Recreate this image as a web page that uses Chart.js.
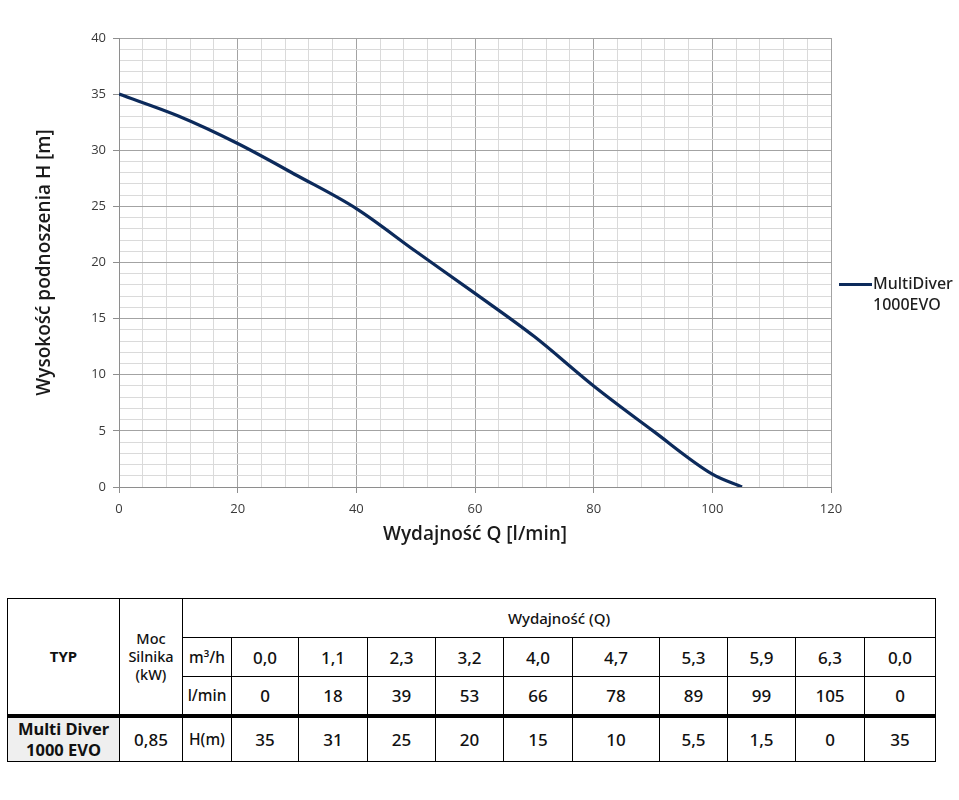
<!DOCTYPE html>
<html>
<head>
<meta charset="utf-8">
<script src="https://cdn.jsdelivr.net/npm/chart.js@4.4.1/dist/chart.umd.min.js"></script>
<style>
  html, body { margin: 0; padding: 0; background: #fff; }
  body { width: 959px; height: 800px; position: relative; overflow: hidden; font-family: "Noto Sans", "Open Sans", sans-serif; }
  #chartBox { position: absolute; left: 0; top: 0; width: 959px; height: 560px; }
  #legend { position: absolute; left: 839px; top: 273px; color: #1e1e1e; font-size: 16px; line-height: 21px; font-weight: 500; }
  #legend .swatch { position: absolute; left: 0; top: 10px; width: 33px; height: 3px; }
  #legend .txt { position: absolute; left: 34px; top: 0; white-space: nowrap; }
  #tbl { position: absolute; left: 7px; top: 598px; border-collapse: collapse; table-layout: fixed; color: #111; }
  #tbl td { border: 1.5px solid #000; text-align: center; vertical-align: middle; padding: 0; font-size: 17px; font-weight: 500; }
  #tbl tr.sep td { border-top: 4px solid #000; }
  #tbl td.typ { font-weight: 700; font-size: 15px; }
  #tbl td.moc { font-size: 14.5px; line-height: 18px; }
  #tbl td.unit { font-size: 15.5px; }
  #tbl td.name { background: #efefef; font-weight: 700; font-size: 16.5px; line-height: 21px; }
  #tbl td.head { font-size: 15px; }
</style>
</head>
<body>
<div id="chartBox"><canvas id="c" width="959" height="560"></canvas></div>
<div id="legend"></div>
<table id="tbl"></table>
<script>
// ---- Curve (Q [l/min], H [m]) ----
const curveQ = [0, 10, 20, 30, 40, 50, 60, 70, 80, 90, 100, 105];
const curveH = [35, 33.05, 30.6, 27.75, 24.8, 21.0, 17.25, 13.4, 9.0, 5.0, 1.15, 0];
const seriesName = ['MultiDiver', '1000EVO'];

// ---- Axis ticks ----
const xMin = 0, xMax = 120, xMajor = 20, xMinor = 4;
const yMin = 0, yMax = 40, yMajor = 5, yMinor = 1;
const xTitle = 'Wydajność Q [l/min]';
const yTitle = 'Wysokość podnoszenia H [m]';

// ---- Table data ----
const tblType = ['Multi Diver', '1000 EVO'];
const tblPower = '0,85';
const tblFlowM3h = [0.0, 1.1, 2.3, 3.2, 4.0, 4.7, 5.3, 5.9, 6.3, 0.0];
const tblFlowLmin = [0, 18, 39, 53, 66, 78, 89, 99, 105, 0];
const tblHead = [35, 31, 25, 20, 15, 10, 5.5, 1.5, 0, 35];
const colWidths = [112, 63, 49, 67, 69, 68, 68, 69, 87, 68, 68, 69, 71];

const lineColor = '#0c2a5b';
const majorGrid = '#a3a3a3';
const minorGrid = '#dadada';
const axisColor = '#8e8e8e';

const tickFont = { family: '"Open Sans", "Noto Sans", sans-serif', size: 13 };
const titleFont = { family: '"Open Sans", "Noto Sans", sans-serif', size: 19, weight: '600' };

new Chart(document.getElementById('c'), {
  type: 'scatter',
  data: {
    datasets: [{
      label: seriesName.join(' '),
      data: curveQ.map((q, i) => ({ x: q, y: curveH[i] })),
      showLine: true,
      borderColor: lineColor,
      backgroundColor: lineColor,
      borderWidth: 3.2,
      pointRadius: 0,
      pointHoverRadius: 0,
      cubicInterpolationMode: 'monotone',
      fill: false
    }]
  },
  options: {
    responsive: false,
    animation: false,
    layout: { padding: { left: 29, right: 128, top: 38, bottom: 10 } },
    plugins: { legend: { display: false }, tooltip: { enabled: false } },
    scales: {
      x: {
        type: 'linear', min: xMin, max: xMax,
        afterFit: s => { s.height = 63; },
        ticks: {
          stepSize: xMinor, autoSkip: false, maxRotation: 0, padding: 8,
          color: '#3a3a3a', font: tickFont,
          callback: v => (Math.round(v) % xMajor === 0 ? String(v) : '')
        },
        grid: {
          color: c => (c.tick && c.tick.value % xMajor === 0 ? majorGrid : minorGrid),
          tickColor: c => (c.tick && c.tick.value % xMajor === 0 ? axisColor : 'rgba(0,0,0,0)'),
          tickLength: 6, lineWidth: 1
        },
        border: { color: axisColor, width: 1 },
        title: { display: true, text: xTitle, color: '#1a1a1a', font: titleFont, padding: { top: 4, bottom: 4 } }
      },
      y: {
        type: 'linear', min: yMin, max: yMax,
        afterFit: s => { s.width = 90; },
        ticks: {
          stepSize: yMinor, autoSkip: false, padding: 7,
          color: '#3a3a3a', font: tickFont,
          callback: v => (Math.round(v) % yMajor === 0 ? String(v) : '')
        },
        grid: {
          color: c => (c.tick && c.tick.value % yMajor === 0 ? majorGrid : minorGrid),
          tickColor: c => (c.tick && c.tick.value % yMajor === 0 ? axisColor : 'rgba(0,0,0,0)'),
          tickLength: 6, lineWidth: 1
        },
        border: { color: axisColor, width: 1 },
        title: { display: true, text: yTitle, color: '#1a1a1a', font: titleFont, padding: { top: 4, bottom: 4 } }
      }
    }
  }
});

// Legend (HTML)
const lg = document.getElementById('legend');
lg.innerHTML = '<div class="swatch" style="background:' + lineColor + '"></div><div class="txt">' + seriesName.join('<br>') + '</div>';

// Table
const fmt1 = v => v.toFixed(1).replace('.', ',');
const fmt = v => String(v).replace('.', ',');
let html = '<colgroup>' + colWidths.map(w => '<col style="width:' + w + 'px">').join('') + '</colgroup>';
html += '<tr style="height:39px"><td class="typ" rowspan="3">TYP</td><td class="moc" rowspan="3">Moc<br>Silnika<br>(kW)</td><td class="head" colspan="11">Wydajność (Q)</td></tr>';
html += '<tr style="height:39px"><td class="unit">m³/h</td>' + tblFlowM3h.map(v => '<td>' + fmt1(v) + '</td>').join('') + '</tr>';
html += '<tr style="height:39px"><td class="unit">l/min</td>' + tblFlowLmin.map(v => '<td>' + fmt(v) + '</td>').join('') + '</tr>';
html += '<tr class="sep" style="height:46px"><td class="name">' + tblType.join('<br>') + '</td><td>' + tblPower + '</td><td class="unit">H(m)</td>' + tblHead.map(v => '<td>' + fmt(v) + '</td>').join('') + '</tr>';
document.getElementById('tbl').innerHTML = html;
</script>
</body>
</html>
